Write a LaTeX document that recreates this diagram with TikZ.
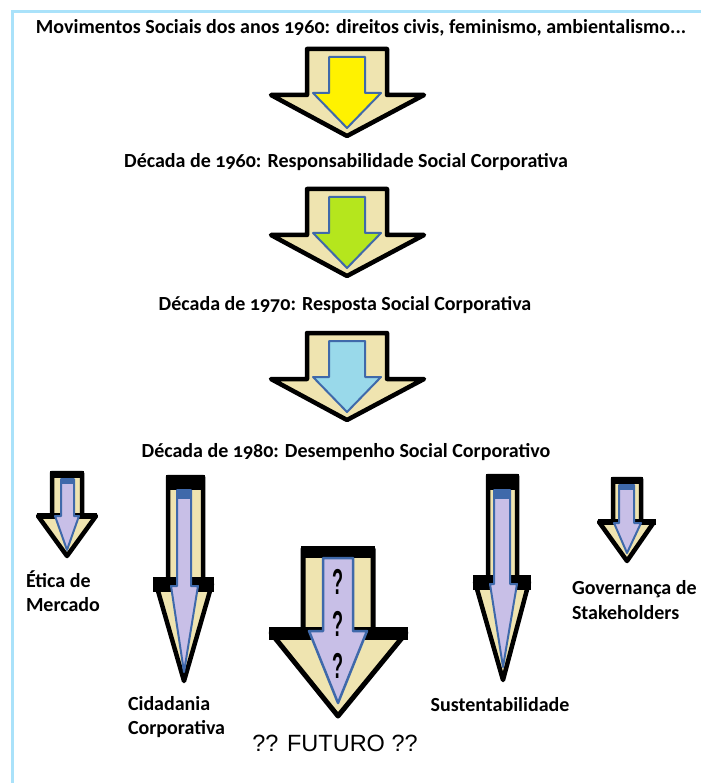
\documentclass[tikz,border=0pt]{standalone}
\usepackage{fontspec}
\setmainfont{Carlito}[Numbers=OldStyle]
\newfontfamily\futfont{Liberation Sans}
\definecolor{arrowtan}{RGB}{239,228,176}
\definecolor{arrowblue}{RGB}{63,105,170}
\definecolor{paintyellow}{RGB}{255,242,0}
\definecolor{paintlime}{RGB}{181,230,29}
\definecolor{paintturq}{RGB}{153,217,234}
\definecolor{lavender}{RGB}{200,191,231}
\definecolor{framecyan}{RGB}{170,226,250}

\begin{document}
\begin{tikzpicture}[x=1pt,y=-1pt,inner sep=0pt,outer sep=0pt,
outerarrow/.style={draw=black,line width=4.5pt,line join=round,fill=arrowtan},
innerarrow/.style={draw=arrowblue,line width=2pt,line join=round,fill=lavender},
heading/.style={font=\bfseries\fontsize{20}{22}\selectfont},
caption/.style={font=\bfseries\fontsize{20}{24.5}\selectfont,align=left}]

\useasboundingbox (0,0) rectangle (701,783);
\fill[white] (0,0) rectangle (701,783);
\draw[framecyan,line width=3pt] (12,783) -- (12,12) -- (701,12);

% big arrows of the time line
\foreach \dy/\col in {0/paintyellow,140/paintlime,284/paintturq}{
\begin{scope}[shift={(0,\dy)}]
\draw[outerarrow] (307,49) -- (387,49) -- (387,95) -- (424,95) -- (347,136) -- (271,95) -- (307,95) -- cycle;
\draw[innerarrow,fill=\col] (329,57) -- (365,57) -- (365,93) -- (381,93) -- (347,128) -- (313,93) -- (329,93) -- cycle;
\end{scope}
}

\draw (361,28) node[heading] (movimentos) {Movimentos Sociais dos anos 1960: direitos civis, feminismo, ambientalismo...};
\draw (346,162) node[heading] (sessenta) {Década de 1960: Responsabilidade Social Corporativa};
\draw (345,305) node[heading] (setenta) {Década de 1970: Resposta Social Corporativa};
\draw (346,452) node[heading] (oitenta) {Década de 1980: Desempenho Social Corporativo};

% etica de mercado
\draw[outerarrow] (52,473) -- (82,473) -- (82,516) -- (96,516) -- (67,556) -- (38,516) -- (52,516) -- cycle;
\fill (50,471) rectangle (84,478);
\fill (37,513) rectangle (97,519);
\draw[innerarrow] (61,479) -- (74,479) -- (74,516) -- (79,516) -- (67,550) -- (55,516) -- (61,516) -- cycle;
\fill[arrowblue] (61,479) rectangle (74,484);

% cidadania corporativa
\draw[outerarrow] (168,477) -- (203,477) -- (203,584) -- (212,584) -- (184,681) -- (156,584) -- (168,584) -- cycle;
\fill (166,475) rectangle (205,490);
\fill (153,577) rectangle (214,592);
\draw[innerarrow] (177,490) -- (191,490) -- (191,586) -- (198,586) -- (184,672) -- (171,586) -- (177,586) -- cycle;
\fill[arrowblue] (177,490) rectangle (191,499);

% futuro
\draw[outerarrow,line width=5pt] (303,549) -- (373,549) -- (373,633) -- (406,633) -- (338,716) -- (271,633) -- (303,633) -- cycle;
\fill (301,546) rectangle (375,558);
\fill (269,627) rectangle (408,640);
\draw[innerarrow,line width=2.5pt] (323,558) -- (353,558) -- (353,631) -- (367,631) -- (338,703) -- (309,631) -- (323,631) -- cycle;

% sustentabilidade
\draw[outerarrow] (488,476) -- (517,476) -- (517,582) -- (529,582) -- (503,680) -- (475,582) -- (488,582) -- cycle;
\fill (486,474) rectangle (519,490);
\fill (473,575) rectangle (531,590);
\draw[innerarrow] (494,490) -- (510,490) -- (510,584) -- (517,584) -- (503,667) -- (490,584) -- (494,584) -- cycle;
\fill[arrowblue] (494,490) rectangle (510,499);

% governanca de stakeholders
\draw[outerarrow] (613,479) -- (641,479) -- (641,522) -- (654,522) -- (627,561) -- (599,522) -- (613,522) -- cycle;
\fill (611,477) rectangle (643,484);
\fill (598,519) rectangle (656,525);
\draw[innerarrow] (619,485) -- (634,485) -- (634,523) -- (641,523) -- (627,553) -- (614,523) -- (619,523) -- cycle;
\fill[arrowblue] (619,485) rectangle (634,490);

\draw (26,591) node[caption,anchor=west] (etica) {Ética de\\Mercado};
\draw (128,717) node[caption,anchor=west] (cidadania) {Cidadania\\Corporativa};
\draw (500,705) node[caption] (sustent) {Sustentabilidade};
\draw (572,600) node[caption,anchor=west] (governanca) {Governança de\\Stakeholders};
\draw (335,743) node[font=\futfont\fontsize{23.5}{24}\selectfont] (futuro) {?? FUTURO ??};
\foreach \qy [count=\i] in {582,624,666}
  \draw (338,\qy) node[font=\futfont\bfseries\fontsize{36}{36}\selectfont] (q\i) {\scalebox{0.5}[1]{?}};
\end{tikzpicture}
\end{document}
